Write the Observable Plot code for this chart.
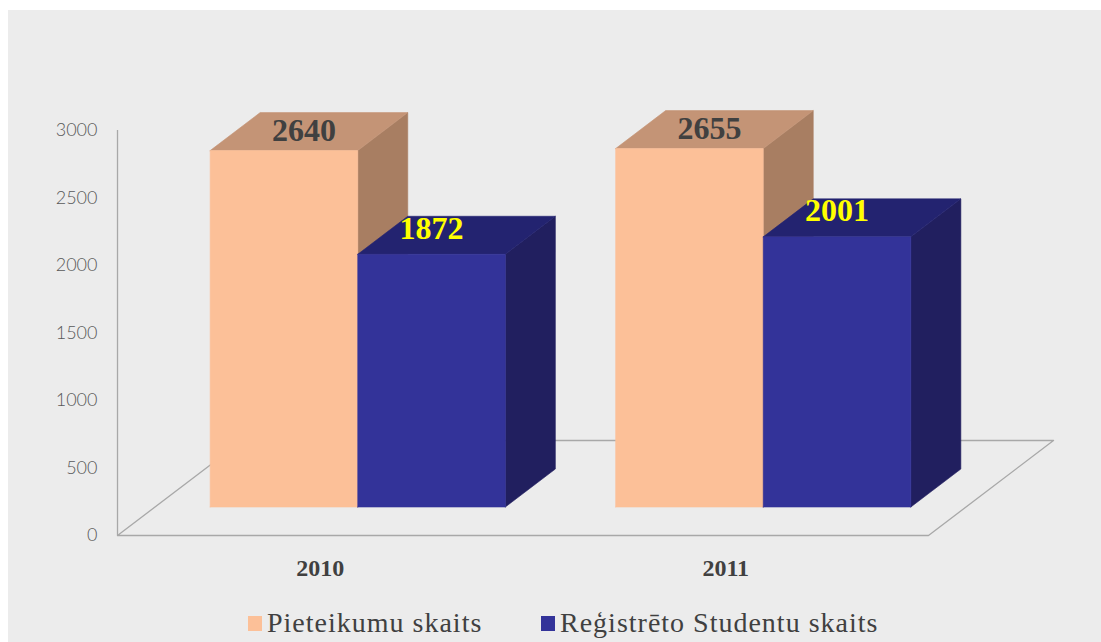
<!DOCTYPE html>
<html><head><meta charset="utf-8">
<script src="https://cdn.jsdelivr.net/npm/d3@7"></script>
<script src="https://cdn.jsdelivr.net/npm/@observablehq/plot@0.6"></script>
<style>
html,body{margin:0;padding:0;background:#fff;}
#box{position:absolute;left:8px;top:10px;width:1093px;height:632px;background:#ececec;overflow:hidden;}
#legend{position:absolute;left:0;top:590px;width:100%;height:42px;font-family:"Liberation Serif",serif;font-size:28px;color:#404040;letter-spacing:1px;}
.item{position:absolute;top:8px;display:flex;align-items:center;white-space:nowrap;line-height:30px;}
.sw{width:14px;height:15px;margin-right:5px;}
</style></head><body><div id="box"><div id="chart"></div><div id="legend"></div></div>
<script>
// ---- data ----
const years = ["2010", "2011"];
const seriesNames = ["Pieteikumu skaits", "Reģistrēto Studentu skaits"];
const applications = [2640, 2655];
const registered = [1872, 2001];
const yTicks = [0, 500, 1000, 1500, 2000, 2500, 3000];
const frontColors = ["#fcc098", "#333399"];
const topColors = ["#c49476", "#232370"];
const sideColors = ["#a87e62", "#211f5f"];
const labelColors = ["#404040", "#ffff00"];

// ---- layout ----
const W = 1093, H = 590, mL = 109, mR = 173, mT = 120, mB = 65;
const yMax = 3000;
const pxPerX = (W - mL - mR) / years.length;     // pixels per category unit
const pxPerY = (H - mT - mB) / yMax;              // pixels per value unit
const ddx = 125 / pxPerX;                          // depth vector in data units
const ddy = 95 / pxPerY;
const inset = 0.136, barW = 0.364, d0 = 0.3, d1 = 0.7;

const seriesValues = [applications, registered];
const faces = [];
const labels = [];
years.forEach((yr, i) => {
  seriesValues.forEach((vals, s) => {
    const v = vals[i];
    const x0 = i + inset + s * barW, x1 = x0 + barW;
    const P = (x, y, d) => ({x: x + d * ddx, y: y + d * ddy});
    const add = (id, fill, pts) => pts.forEach(p => faces.push({id, fill, ...p}));
    const key = `${i}-${s}`;
    add(key + "side", sideColors[s], [P(x1, 0, d0), P(x1, v, d0), P(x1, v, d1), P(x1, 0, d1), P(x1, 0, d0)]);
    add(key + "top", topColors[s], [P(x0, v, d0), P(x1, v, d0), P(x1, v, d1), P(x0, v, d1), P(x0, v, d0)]);
    add(key + "front", frontColors[s], [P(x0, 0, d0), P(x1, 0, d0), P(x1, v, d0), P(x0, v, d0), P(x0, 0, d0)]);
    const c = P((x0 + x1) / 2, v, (d0 + d1) / 2);
    labels.push({s, x: c.x, y: c.y, text: String(v), color: labelColors[s]});
  });
});
const floor = [
  {x: 0, y: 0}, {x: 2, y: 0}, {x: 2 + ddx, y: ddy}, {x: ddx, y: ddy}, {x: 0, y: 0}
];

const chart = Plot.plot({
  width: W, height: H,
  marginLeft: mL, marginRight: mR, marginTop: mT, marginBottom: mB,
  x: {domain: [0, years.length], label: null},
  y: {domain: [0, yMax], label: null},
  color: {type: "identity"},
  style: {background: "transparent", overflow: "visible"},
  marks: [
    Plot.line(floor, {x: "x", y: "y", stroke: "#a8a8a8", strokeWidth: 1.3, curve: "linear"}),
    Plot.ruleX([0], {y1: 0, y2: yMax, stroke: "#a8a8a8", strokeWidth: 1.3}),
    Plot.line(faces, {x: "x", y: "y", z: "id", fill: "fill", stroke: "fill", strokeWidth: 0.6, curve: "linear"}),
    Plot.text(labels.filter(d => d.s === 0), {x: "x", y: "y", text: "text", fill: "color", dx: -5, dy: -1,
      fontFamily: "Liberation Serif", fontWeight: "bold", fontSize: 32, lineAnchor: "middle"}),
    Plot.text(labels.filter(d => d.s === 1), {x: "x", y: "y", text: "text", fill: "color", dx: -25, dy: -7,
      fontFamily: "Liberation Serif", fontWeight: "bold", fontSize: 32, lineAnchor: "middle"}),
    Plot.axisY({ticks: yTicks, tickFormat: d => String(d), tickSize: 0, tickPadding: 20,
      fontFamily: "Lato", fontWeight: 300, fontSize: 18, fill: "#595959", label: null}),
    Plot.axisX({ticks: years.map((_, i) => i + 0.5), tickFormat: d => years[Math.floor(d)], tickSize: 0, tickPadding: 23,
      fontFamily: "Liberation Serif", fontWeight: "bold", fontSize: 24, fill: "#404040", label: null})
  ]
});
document.getElementById("chart").appendChild(chart);

// legend
const legend = document.getElementById("legend");
const legendLeft = [240, 533];
seriesNames.forEach((name, s) => {
  const it = document.createElement("div");
  it.className = "item";
  it.style.left = legendLeft[s] + "px";
  const sw = document.createElement("span");
  sw.className = "sw";
  sw.style.background = frontColors[s];
  const tx = document.createElement("span");
  tx.textContent = name;
  it.appendChild(sw); it.appendChild(tx);
  legend.appendChild(it);
});
</script></body></html>
